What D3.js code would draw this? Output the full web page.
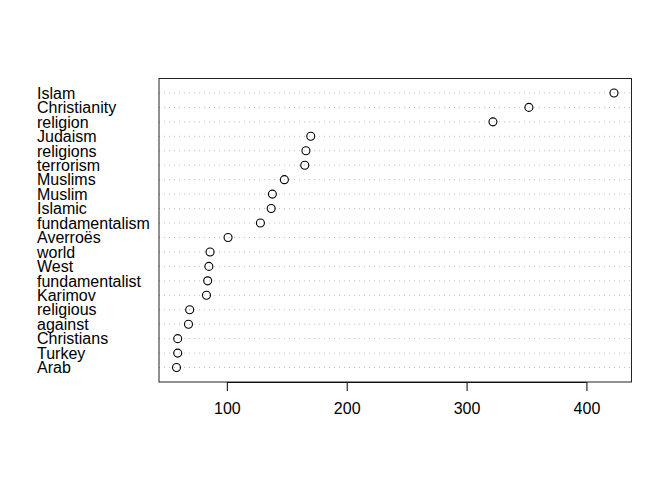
<!DOCTYPE html>
<html>
<head>
<meta charset="utf-8">
<script src="https://cdn.jsdelivr.net/npm/d3@7"></script>
<style>
  body { margin: 0; background: #fff; }
  text { font-family: "Liberation Sans", Arial, Helvetica, sans-serif; }
</style>
</head>
<body>
<svg id="chart" width="672" height="480"></svg>
<script>
const categories = ["Islam", "Christianity", "religion", "Judaism", "religions", "terrorism",
  "Muslims", "Muslim", "Islamic", "fundamentalism", "Averroës", "world", "West",
  "fundamentalist", "Karimov", "religious", "against", "Christians", "Turkey", "Arab"];
const values = [423, 352, 322, 170, 166, 165, 148, 138, 137, 128, 101, 86, 85, 84, 83, 69, 68, 59, 59, 58];
const xTicks = [100, 200, 300, 400];

(function () {
const svg = d3.select("#chart");
const pLeft = 159, pRight = 631.5, pTop = 78.5, pBottom = 382;

const xmin = d3.min(values), xmax = d3.max(values);
const pad = (xmax - xmin) * 0.04;
const x = d3.scaleLinear().domain([xmin - pad, xmax + pad]).range([pLeft, pRight]);
const n = categories.length;
const y = d3.scaleLinear().domain([0, n + 1]).range([pBottom, pTop]);
const rowPos = i => n - i;

// dotted guide lines
svg.append("g").selectAll("line").data(categories).join("line")
  .attr("x1", pLeft).attr("x2", pRight)
  .attr("y1", (d, i) => y(rowPos(i))).attr("y2", (d, i) => y(rowPos(i)))
  .attr("stroke", "#bebebe").attr("stroke-width", 1)
  .attr("stroke-dasharray", "1,4");

// points
svg.append("g").selectAll("circle").data(values).join("circle")
  .attr("cx", d => x(d)).attr("cy", (d, i) => y(rowPos(i)))
  .attr("r", 4).attr("fill", "none").attr("stroke", "#000").attr("stroke-width", 1.1);

// labels
svg.append("g").selectAll("text").data(categories).join("text")
  .attr("x", 37).attr("y", (d, i) => y(rowPos(i)))
  .attr("dy", "0.36em")
  .attr("font-size", 16).attr("fill", "#000")
  .text(d => d);

// x axis
const axis = d3.axisBottom(x).tickValues(xTicks).tickSize(9).tickPadding(12).tickFormat(d3.format("d"));
const gx = svg.append("g").attr("transform", `translate(0,${pBottom})`).call(axis);
gx.select(".domain").attr("d", `M${x(xTicks[0])},0.5H${x(xTicks[xTicks.length-1])}`).attr("stroke", "#000");
gx.selectAll(".tick line").attr("stroke", "#000");
gx.selectAll(".tick text").attr("font-size", 16).attr("fill", "#000")
  .style("font-family", "'Liberation Sans', Arial, sans-serif");

// box
svg.append("rect").attr("x", pLeft).attr("y", pTop)
  .attr("width", pRight - pLeft).attr("height", pBottom - pTop)
  .attr("fill", "none").attr("stroke", "#222").attr("stroke-width", 1);
})();
</script>
</body>
</html>
